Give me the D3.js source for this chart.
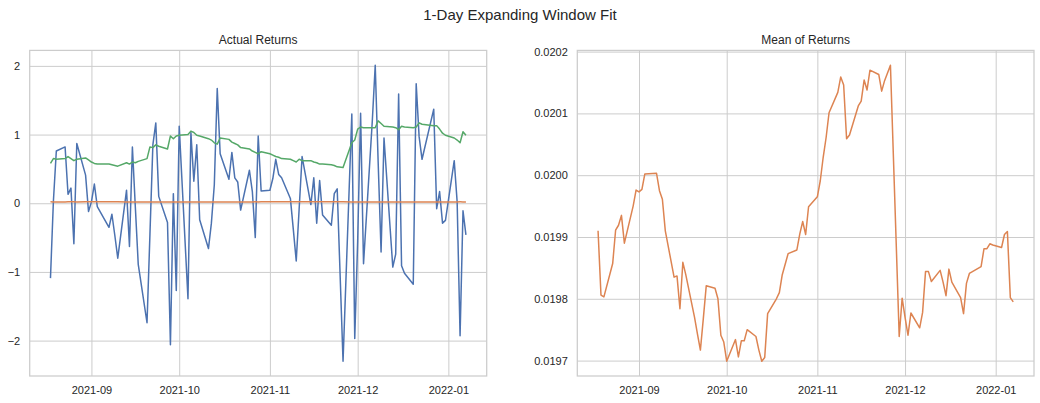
<!DOCTYPE html>
<html>
<head>
<meta charset="utf-8">
<script src="https://cdn.jsdelivr.net/npm/d3@7"></script>
<style>
  body { margin: 0; background: #fff; }
  svg text { font-family: 'Liberation Sans', Arial, sans-serif; fill: #262626; }
</style>
</head>
<body>
<div id="chart"></div>
<script>
//Data (trading days)
const dates = [
  '2021-08-18','2021-08-19','2021-08-20','2021-08-23','2021-08-24','2021-08-25','2021-08-26','2021-08-27','2021-08-30','2021-08-31',
  '2021-09-01','2021-09-02','2021-09-03','2021-09-07','2021-09-08','2021-09-09','2021-09-10','2021-09-13','2021-09-14','2021-09-15',
  '2021-09-16','2021-09-17','2021-09-20','2021-09-21','2021-09-22','2021-09-23','2021-09-24','2021-09-27','2021-09-28','2021-09-29','2021-09-30',
  '2021-10-01','2021-10-04','2021-10-05','2021-10-06','2021-10-07','2021-10-08','2021-10-11','2021-10-12','2021-10-13','2021-10-14',
  '2021-10-15','2021-10-18','2021-10-19','2021-10-20','2021-10-21','2021-10-22','2021-10-25','2021-10-26','2021-10-27','2021-10-28','2021-10-29',
  '2021-11-01','2021-11-02','2021-11-03','2021-11-04','2021-11-05','2021-11-08','2021-11-09','2021-11-10','2021-11-11','2021-11-12',
  '2021-11-15','2021-11-16','2021-11-17','2021-11-18','2021-11-19','2021-11-22','2021-11-23','2021-11-24','2021-11-26','2021-11-29','2021-11-30',
  '2021-12-01','2021-12-02','2021-12-03','2021-12-06','2021-12-07','2021-12-08','2021-12-09','2021-12-10','2021-12-13','2021-12-14','2021-12-15',
  '2021-12-16','2021-12-17','2021-12-20','2021-12-21','2021-12-22','2021-12-23','2021-12-27','2021-12-28','2021-12-29','2021-12-30','2021-12-31',
  '2022-01-03','2022-01-04','2022-01-05','2022-01-06','2022-01-07'
];

const actualReturns = [
  -1.09, 0.03, 0.76, 0.82, 0.13, 0.22, -0.59, 0.87, 0.41, -0.12,
  0.02, 0.28, -0.05, -0.35, -0.16, -0.47, -0.80, 0.19, -0.63, 0.82, -0.05, -0.89, -1.74, -0.45, 0.85, 1.17, 0.10, -0.28, -2.06, 0.14, -1.27,
  1.12, -1.39, 1.03, 0.32, 0.85, -0.24, -0.66, -0.29, 0.27, 1.67, 0.72, 0.35, 0.74, 0.37, 0.31, -0.10, 0.48, 0.17, -0.50, 0.98, 0.18,
  0.19, 0.36, 0.64, 0.42, 0.37, 0.07, -0.38, -0.84, -0.08, 0.68, -0.02, 0.37, -0.29, 0.33, -0.17, -0.32, 0.14, 0.21, -2.30, 1.30, -1.97,
  -0.55, 1.31, -0.88, 1.20, 2.01, 0.60, -0.71, 0.95, -0.93, -0.74, 1.59, -0.91, -1.02, -1.18, 1.74, 0.97, 0.64, 1.37, -0.08, 0.17, -0.29, -0.25,
  0.62, 0.02, -1.93, -0.11, -0.46
];

const meanReturns = [
  0.019910, 0.019806, 0.019803, 0.019857, 0.019911, 0.019919, 0.019935, 0.019890, 0.019950, 0.019976,
  0.019973, 0.019977, 0.020002, 0.020003, 0.019975, 0.019961, 0.019910, 0.019835, 0.019837, 0.019784, 0.019859,
  0.019839, 0.019770, 0.019743, 0.019717, 0.019768, 0.019821, 0.019817, 0.019800, 0.019741, 0.019730,
  0.019699, 0.019734, 0.019706, 0.019732, 0.019732, 0.019750, 0.019739, 0.019717, 0.019699, 0.019705, 0.019776,
  0.019800, 0.019810, 0.019839, 0.019856, 0.019873, 0.019879, 0.019905, 0.019925, 0.019904, 0.019949,
  0.019965, 0.019991, 0.020029, 0.020061, 0.020101, 0.020134, 0.020159, 0.020146, 0.020059, 0.020065, 0.020112,
  0.020120, 0.020154, 0.020138, 0.020170, 0.020163, 0.020136, 0.020153, 0.020178, 0.019739, 0.019801,
  0.019770, 0.019741, 0.019777, 0.019753, 0.019778, 0.019844, 0.019844, 0.019828, 0.019846, 0.019827, 0.019805,
  0.019848, 0.019827, 0.019802, 0.019776, 0.019825, 0.019841, 0.019852, 0.019881, 0.019881, 0.019889, 0.019887,
  0.019883, 0.019904, 0.019909, 0.019802, 0.019795
];

const stdReturns = [
  0.58, 0.65, 0.64, 0.65, 0.68, 0.65, 0.62, 0.64, 0.66, 0.63,
  0.60, 0.58, 0.57, 0.57, 0.56, 0.55, 0.54, 0.59, 0.57, 0.60, 0.59, 0.61, 0.65, 0.82, 0.81, 0.85, 0.83, 0.79, 0.98, 0.94, 0.98,
  0.99, 1.00, 1.05, 1.03, 0.99, 0.98, 0.94, 0.92, 0.88, 0.86, 0.95, 0.93, 0.89, 0.87, 0.85, 0.81, 0.79, 0.76, 0.74, 0.72, 0.75,
  0.72, 0.70, 0.68, 0.67, 0.65, 0.64, 0.62, 0.60, 0.64, 0.62, 0.62, 0.60, 0.59, 0.57, 0.57, 0.56, 0.55, 0.53, 0.52, 0.88, 0.92,
  1.08, 1.11, 1.10, 1.10, 1.10, 1.20, 1.16, 1.12, 1.11, 1.10, 1.07, 1.12, 1.11, 1.10, 1.11, 1.17, 1.15, 1.13, 1.13, 1.08, 1.02, 0.99,
  0.95, 0.92, 0.88, 1.04, 0.99
];

const xTickLabels = ['2021-09', '2021-10', '2021-11', '2021-12', '2022-01'];
const leftYTicks = [-2, -1, 0, 1, 2];
const rightYTicks = [0.0197, 0.0198, 0.0199, 0.0200, 0.0201, 0.0202];

//Colors
const blue = '#4c72b0';
const orange = '#dd8452';
const green = '#55a868';
const gridColor = '#cccccc';

//Figure
const width = 1040;
const height = 403;
const plotTop = 50.4;
const plotBot = 376;

const parseDate = d3.utcParse('%Y-%m-%d');
const parseMonth = d3.utcParse('%Y-%m');
const xDates = dates.map(parseDate);
const xTicks = xTickLabels.map(parseMonth);

const svg = d3.select('#chart').append('svg')
  .attr('width', width)
  .attr('height', height);

svg.append('text')
  .attr('x', width / 2)
  .attr('y', 19.5)
  .attr('text-anchor', 'middle')
  .style('font-size', '15px')
  .text('1-Day Expanding Window Fit');

//matplotlib style 5% padding
function padded(extent) {
  const pad = (extent[1] - extent[0]) * 0.05;
  return [extent[0] - pad, extent[1] + pad];
}

function drawPanel(left, right, title, series, yTicks, yFormat) {
  const dExt = d3.extent(xDates);
  const xScale = d3.scaleUtc()
    .domain(padded([+dExt[0], +dExt[1]]).map(v => new Date(v)))
    .range([left, right]);

  const allVals = series.flatMap(s => s.values);
  const yScale = d3.scaleLinear()
    .domain(padded(d3.extent(allVals)))
    .range([plotBot, plotTop]);

  const g = svg.append('g');

  //Grid
  const xAxis = d3.axisBottom(xScale)
    .tickValues(xTicks)
    .tickFormat(d3.utcFormat('%Y-%m'))
    .tickSize(-(plotBot - plotTop))
    .tickPadding(10);

  const yAxis = d3.axisLeft(yScale)
    .tickValues(yTicks)
    .tickFormat(yFormat)
    .tickSize(-(right - left))
    .tickPadding(9.5);

  const xAxisGroup = g.append('g')
    .attr('transform', `translate(0, ${plotBot})`)
    .call(xAxis);

  const yAxisGroup = g.append('g')
    .attr('transform', `translate(${left}, 0)`)
    .call(yAxis);

  [xAxisGroup, yAxisGroup].forEach(ax => {
    ax.select('.domain').remove();
    ax.selectAll('line').attr('stroke', gridColor).attr('stroke-width', 1);
    ax.selectAll('text')
      .style('font-size', '11px')
      .attr('fill', '#262626');
  });
  xAxisGroup.selectAll('text').attr('dy', '0.71em').attr('y', 10);

  //Lines
  const clipId = 'clip' + Math.round(left);
  g.append('clipPath').attr('id', clipId)
    .append('rect')
    .attr('x', left).attr('y', plotTop)
    .attr('width', right - left).attr('height', plotBot - plotTop);

  series.forEach(s => {
    const line = d3.line()
      .x((d, i) => xScale(xDates[i]))
      .y(d => yScale(d));
    g.append('path')
      .attr('d', line(s.values))
      .attr('fill', 'none')
      .attr('stroke', s.color)
      .attr('stroke-width', 1.5)
      .attr('stroke-linejoin', 'round')
      .attr('clip-path', `url(#${clipId})`);
  });

  //Spines
  g.append('rect')
    .attr('x', left).attr('y', plotTop)
    .attr('width', right - left).attr('height', plotBot - plotTop)
    .attr('fill', 'none')
    .attr('stroke', gridColor)
    .attr('stroke-width', 1.25);

  g.append('text')
    .attr('x', (left + right) / 2)
    .attr('y', plotTop - 6)
    .attr('text-anchor', 'middle')
    .style('font-size', '12px')
    .text(title);
}

drawPanel(29.7, 486.7, 'Actual Returns', [
  { values: actualReturns, color: blue },
  { values: meanReturns, color: orange },
  { values: stdReturns, color: green }
], leftYTicks, d3.format('d'));

//right panel only holds the mean
drawPanel(577.3, 1034, 'Mean of Returns', [
  { values: meanReturns, color: orange }
], rightYTicks, d3.format('.4f'));
</script>
</body>
</html>
